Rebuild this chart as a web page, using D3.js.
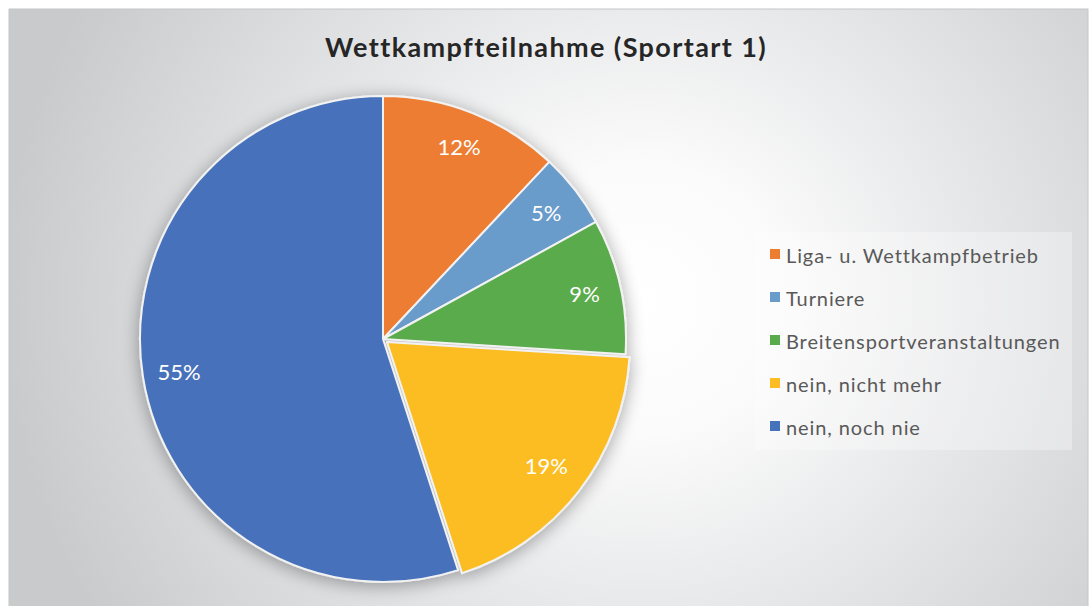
<!DOCTYPE html>
<html>
<head>
<meta charset="utf-8">
<script src="https://cdn.jsdelivr.net/npm/d3@7"></script>
<style>
  html, body { margin: 0; padding: 0; background: #fff; }
  svg { display: block; font-family: Lato, "Open Sans", sans-serif; }
</style>
</head>
<body>
<svg id="chart"></svg>
<script>
// pie chart — Wettkampfteilnahme (Sportart 1)

const W = 1090, H = 606;

const categories = ['Liga- u. Wettkampfbetrieb', 'Turniere', 'Breitensportveranstaltungen', 'nein, nicht mehr', 'nein, noch nie'];
const values = [12, 5, 9, 19, 55];
const colors = ['#ed7d31', '#699bcb', '#5aab4c', '#fcbd24', '#4672bb'];
const exploded = ['nein, nicht mehr'];
const title = 'Wettkampfteilnahme (Sportart 1)';

const svg = d3.select('#chart').attr('width', W).attr('height', H);
const defs = svg.append('defs');

// background gradient like the Office preset
const bg = defs.append('radialGradient')
  .attr('id', 'bg').attr('gradientUnits', 'userSpaceOnUse')
  .attr('cx', 640).attr('cy', 300).attr('r', 640)
  .attr('gradientTransform', 'translate(640,300) scale(1,0.95) translate(-640,-300)');
bg.append('stop').attr('offset', '0%').attr('stop-color', '#ffffff');
bg.append('stop').attr('offset', '22%').attr('stop-color', '#fbfbfb');
bg.append('stop').attr('offset', '60%').attr('stop-color', '#e2e3e5');
bg.append('stop').attr('offset', '100%').attr('stop-color', '#c9cacc');

const shadow = defs.append('filter').attr('id', 'shadow')
  .attr('x', '-20%').attr('y', '-20%').attr('width', '140%').attr('height', '140%');
shadow.append('feGaussianBlur').attr('in', 'SourceAlpha').attr('stdDeviation', 9).attr('result', 'b');
shadow.append('feOffset').attr('in', 'b').attr('dx', 0).attr('dy', 3).attr('result', 'o');
shadow.append('feComponentTransfer').attr('in', 'o').attr('result', 's')
  .append('feFuncA').attr('type', 'linear').attr('slope', 0.35);
const merge = shadow.append('feMerge');
merge.append('feMergeNode').attr('in', 's');
merge.append('feMergeNode').attr('in', 'SourceGraphic');

svg.append('rect')
  .attr('x', 9).attr('y', 9).attr('width', W - 11).attr('height', H - 8)
  .attr('fill', 'url(#bg)')
  .attr('stroke', '#c6c6c6').attr('stroke-width', 1);

svg.append('text')
  .attr('x', 546).attr('y', 57)
  .attr('text-anchor', 'middle')
  .attr('font-size', 27).attr('font-weight', 'bold')
  .attr('letter-spacing', 1.4)
  .attr('fill', '#262626')
  .text(title);

// pie
const cx = 383, cy = 339, R = 243;
const data = categories.map((c, i) => ({ name: c, value: values[i], color: colors[i] }));

const pie = d3.pie().value(d => d.value).sort(null);
const arc = d3.arc().innerRadius(0).outerRadius(R);
const labelArc = d3.arc().innerRadius(R * 0.85).outerRadius(R * 0.85);

const pieG = svg.append('g')
  .attr('transform', `translate(${cx},${cy})`)
  .attr('filter', 'url(#shadow)');

const arcs = pie(data);

pieG.selectAll('path')
  .data(arcs)
  .join('path')
  .attr('d', arc)
  .attr('fill', d => d.data.color)
  .attr('stroke', '#f2f2f2')
  .attr('stroke-width', 2)
  .attr('stroke-linejoin', 'round')
  .attr('transform', d => {
    if (!exploded.includes(d.data.name)) return null;
    const a = (d.startAngle + d.endAngle) / 2;
    return `translate(${Math.sin(a) * 5},${-Math.cos(a) * 5})`;
  });

svg.append('g')
  .attr('transform', `translate(${cx},${cy})`)
  .selectAll('text')
  .data(arcs)
  .join('text')
  .attr('transform', d => `translate(${labelArc.centroid(d)})`)
  .attr('text-anchor', 'middle')
  .attr('dominant-baseline', 'central')
  .attr('font-size', 22)
  .attr('fill', '#ffffff')
  .text(d => d.data.value + '%');

// legend
const legend = svg.append('g');
legend.append('rect')
  .attr('x', 755).attr('y', 232).attr('width', 317).attr('height', 218)
  .attr('fill', '#ffffff').attr('fill-opacity', 0.3);

const ly = d3.scalePoint().domain(categories).range([254, 426]);

const item = legend.selectAll('g.item')
  .data(data)
  .join('g')
  .attr('class', 'item')
  .attr('transform', d => `translate(770,${ly(d.name)})`);

item.append('rect')
  .attr('x', 0).attr('y', -5).attr('width', 10).attr('height', 10)
  .attr('fill', d => d.color);

item.append('text')
  .attr('x', 16).attr('y', 1)
  .attr('dominant-baseline', 'central')
  .attr('font-size', 20)
  .attr('letter-spacing', 0.9)
  .attr('fill', '#595959')
  .text(d => d.name);
</script>
</body>
</html>
